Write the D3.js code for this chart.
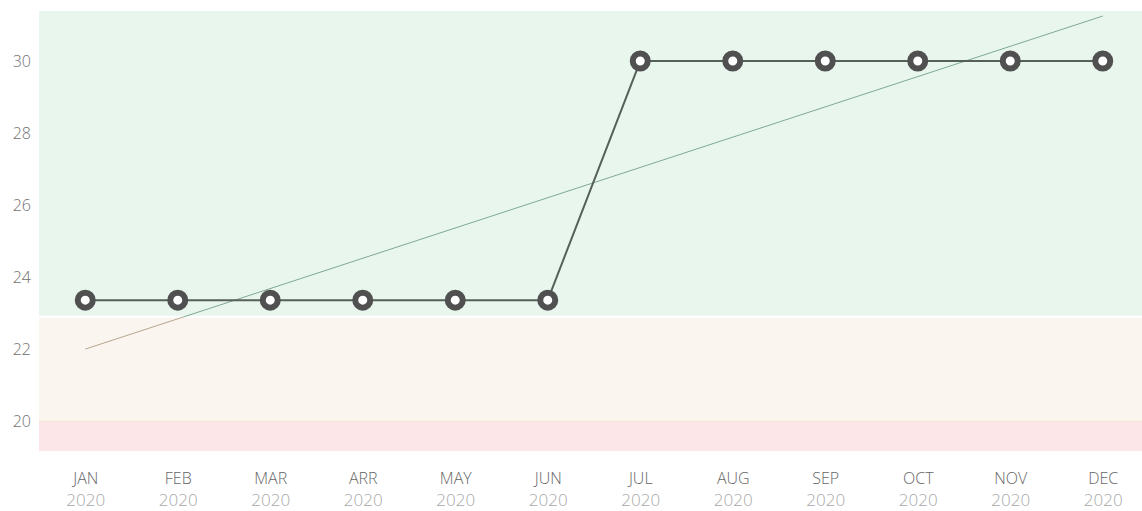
<!DOCTYPE html>
<html>
<head>
<meta charset="utf-8">
<script src="https://cdn.jsdelivr.net/npm/d3@7"></script>
<style>
  body { margin: 0; background: #fff; }
  svg { display: block; font-family: 'Open Sans', sans-serif; }
</style>
</head>
<body>
<svg id="chart" width="1142" height="511"></svg>
<script>
const months = ['JAN', 'FEB', 'MAR', 'ARR', 'MAY', 'JUN', 'JUL', 'AUG', 'SEP', 'OCT', 'NOV', 'DEC']
const years = ['2020', '2020', '2020', '2020', '2020', '2020', '2020', '2020', '2020', '2020', '2020', '2020']
const values = [23.36, 23.36, 23.36, 23.36, 23.36, 23.36, 30, 30, 30, 30, 30, 30]
const trend = [22.0, 31.25] // first and last month
const yTicks = [20, 22, 24, 26, 28, 30]
const bands = [
  { from: 22.9, to: 31.39, color: '#e8f6ee' },
  { from: 20, to: 22.9, color: '#faf5ee' },
  { from: 19.17, to: 20, color: '#fde6e7' }
]

const width = 1142
const height = 511
const margin = ({ top: 11, right: -7, bottom: 60, left: 39 })

const svg = d3.select('#chart')

const x = d3.scalePoint()
  .domain(months)
  .range([margin.left, width - margin.right])
  .padding(0.5)

const y = d3.scaleLinear()
  .domain([19.17, 31.39])
  .range([height - margin.bottom, margin.top])

// background bands
svg.append('g')
  .selectAll('rect')
  .data(bands)
  .join('rect')
  .attr('x', margin.left)
  .attr('width', width - margin.left)
  .attr('y', d => y(d.to))
  .attr('height', d => y(d.from) - y(d.to))
  .attr('fill', d => d.color)

// thin separators between bands
svg.append('line')
  .attr('x1', margin.left).attr('x2', width)
  .attr('y1', y(22.9)).attr('y2', y(22.9))
  .attr('stroke', '#fff').attr('stroke-width', 2)
svg.append('line')
  .attr('x1', margin.left).attr('x2', width)
  .attr('y1', y(20)).attr('y2', y(20))
  .attr('stroke', '#f8e4d8').attr('stroke-width', 1)

// y axis labels
const yAxis = g => g
  .attr('transform', `translate(${margin.left},0)`)
  .call(d3.axisLeft(y).tickValues(yTicks).tickSize(0).tickPadding(8))
  .call(g => g.select('.domain').remove())
  .call(g => g.selectAll('text')
    .attr('fill', '#707070')
    .attr('font-size', 16)
    .attr('font-weight', 300)
    .attr('font-family', 'Open Sans, sans-serif'))

svg.append('g').call(yAxis)

// x axis labels (month + year)
const xAxis = g => g
  .attr('transform', `translate(0,${height - margin.bottom})`)
  .call(d3.axisBottom(x).tickSize(0).tickPadding(22))
  .call(g => g.select('.domain').remove())
  .call(g => g.selectAll('.tick text')
    .attr('fill', '#666')
    .attr('font-size', 16)
    .attr('font-weight', 300)
    .attr('font-family', 'Open Sans, sans-serif'))
  .call(g => g.selectAll('.tick').append('text')
    .attr('y', 55)
    .attr('text-anchor', 'middle')
    .attr('fill', '#a8a8a8')
    .attr('font-size', 17)
    .attr('font-weight', 300)
    .attr('font-family', 'Open Sans, sans-serif')
    .text((d, i) => years[i]))

svg.append('g').call(xAxis)

// trend line, gradient by threshold
const grad = svg.append('defs').append('linearGradient')
  .attr('id', 'trendGrad')
  .attr('gradientUnits', 'userSpaceOnUse')
  .attr('x1', 0).attr('x2', 0)
  .attr('y1', y(trend[0])).attr('y2', y(trend[1]))
const cut = (y(trend[0]) - y(22.9)) / (y(trend[0]) - y(trend[1]))
grad.append('stop').attr('offset', 0).attr('stop-color', '#b7a58e')
grad.append('stop').attr('offset', cut).attr('stop-color', '#b7a58e')
grad.append('stop').attr('offset', cut).attr('stop-color', '#7fa893')
grad.append('stop').attr('offset', 1).attr('stop-color', '#7fa893')

svg.append('path')
  .datum([{ m: months[0], v: trend[0] }, { m: months[months.length - 1], v: trend[1] }])
  .attr('fill', 'none')
  .attr('stroke', 'url(#trendGrad)')
  .attr('stroke-width', 1)
  .attr('d', d3.line().x(d => x(d.m)).y(d => y(d.v)))

// main line
const line = d3.line()
  .x((d, i) => x(months[i]))
  .y(d => y(d))

svg.append('path')
  .datum(values)
  .attr('fill', 'none')
  .attr('stroke', '#55605a')
  .attr('stroke-width', 2)
  .attr('stroke-linejoin', 'round')
  .attr('d', line)

svg.append('g')
  .selectAll('circle')
  .data(values)
  .join('circle')
  .attr('cx', (d, i) => x(months[i]))
  .attr('cy', d => y(d))
  .attr('r', 7.5)
  .attr('fill', '#fff')
  .attr('stroke', '#505050')
  .attr('stroke-width', 6)
</script>
</body>
</html>
